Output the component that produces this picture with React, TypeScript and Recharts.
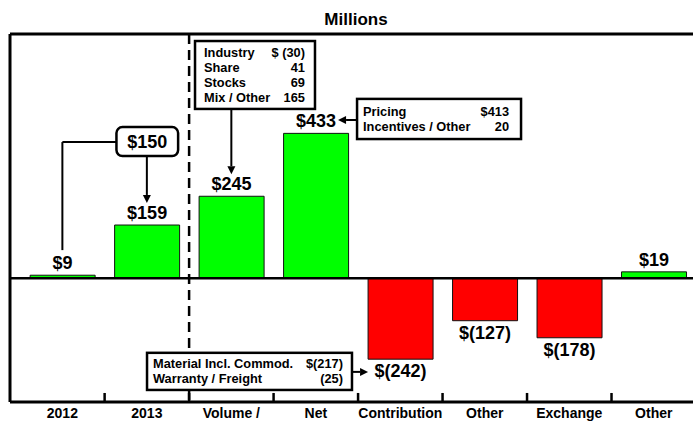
import React from 'react';
import {
  BarChart,
  Bar,
  XAxis,
  YAxis,
  Cell,
  LabelList,
  ReferenceLine,
  ReferenceArea,
} from 'recharts';

// ---- data ----
const categories = ['2012', '2013', 'Volume /', 'Net', 'Contribution', 'Other', 'Exchange', 'Other'];
const values = [9, 159, 245, 433, -242, -127, -178, 19];
const bridgeDelta = '$150';
const volumeItems = ['Industry', 'Share', 'Stocks', 'Mix / Other'];
const volumeAmounts = ['$ (30)', '41', '69', '165'];
const pricingItems = ['Pricing', 'Incentives / Other'];
const pricingAmounts = ['$413', '20'];
const materialItems = ['Material Incl. Commod.', 'Warranty / Freight'];
const materialAmounts = ['$(217)', '(25)'];
const title = 'Millions';

const data = categories.map((c, i) => ({ idx: i, name: c, value: values[i] }));
const labelTicks = categories.map((_, i) => i);
const markTicks = categories.slice(1).map((_, i) => i + 0.5);

const X_MIN = -0.62;
const X_MAX = 7.5;
const Y_MIN = -370;
const Y_MAX = 730;

const FONT = "'Liberation Sans', Arial, Helvetica, sans-serif";
const fmt = (v: number) => (v >= 0 ? `$${v}` : `$(${-v})`);

const BarValueLabel = (p: any) => {
  const vb = p.viewBox && p.viewBox.width !== undefined ? p.viewBox : p;
  const { x, y, width, height } = vb;
  const v = Number(p.value);
  const top = Math.min(y, y + height);
  const bottom = Math.max(y, y + height);
  return (
    <text x={x + width / 2} y={v >= 0 ? top - 6 : bottom + 18} textAnchor="middle" fontFamily={FONT} fontWeight="bold" fontSize={18} fill="#000">
      {fmt(v)}
    </text>
  );
};

const LabelTick = (p: any) => {
  const { x, y, payload } = p;
  const i = Math.round(payload.value);
  return (
    <text x={x} y={y + 16} textAnchor="middle" fontFamily={FONT} fontWeight="bold" fontSize={14} fill="#000">
      {categories[i]}
    </text>
  );
};

const arrowShape = (p: any) => {
  const x1 = Number(p.x1), y1 = Number(p.y1), x2 = Number(p.x2), y2 = Number(p.y2);
  const dx = x2 - x1, dy = y2 - y1;
  const len = Math.hypot(dx, dy) || 1;
  const ux = dx / len, uy = dy / len;
  const hl = 8, hw = 4;
  const bx = x2 - ux * hl, by = y2 - uy * hl;
  return (
    <g>
      <line x1={x1} y1={y1} x2={bx} y2={by} stroke="#000" strokeWidth={2} />
      <polygon points={`${x2},${y2} ${bx - uy * hw},${by + ux * hw} ${bx + uy * hw},${by - ux * hw}`} fill="#000" />
    </g>
  );
};

const infoBox = (items: string[], amounts: string[], o: any) => (p: any) => {
  const { x, y, width, height } = p;
  return (
    <g>
      <rect x={x} y={y} width={width} height={height} fill="#fff" stroke="#000" strokeWidth={2.5} />
      {items.map((t, i) => (
        <text key={'l' + i} x={x + o.padL} y={y + o.first + i * o.lineH} fontFamily={FONT} fontWeight="bold" fontSize={o.fs} fill="#000">{t}</text>
      ))}
      {amounts.map((t, i) => (
        <text key={'r' + i} x={x + width - o.padR} y={y + o.first + i * o.lineH} textAnchor="end" fontFamily={FONT} fontWeight="bold" fontSize={o.fs} fill="#000">{t}</text>
      ))}
    </g>
  );
};

const deltaBox = (p: any) => {
  const { x, y, width, height } = p;
  return (
    <g>
      <rect x={x} y={y} width={width} height={height} rx={6} ry={6} fill="#fff" stroke="#000" strokeWidth={2.5} />
      <text x={x + width / 2} y={y + height / 2 + 6.5} textAnchor="middle" fontFamily={FONT} fontWeight="bold" fontSize={18} fill="#000">{bridgeDelta}</text>
    </g>
  );
};

const lineShape = (w: number, dash?: string) => (p: any) => (
  <line x1={p.x1} y1={p.y1} x2={p.x2} y2={p.y2} stroke="#000" strokeWidth={w} strokeDasharray={dash} />
);

export default function App() {
  return (
    <div style={{ position: 'absolute', left: 0, top: 0, width: 693, height: 421, overflow: 'hidden', background: '#fff' }}>
      <div style={{ position: 'absolute', left: 0, top: 11, width: 712, textAlign: 'center', fontFamily: FONT, fontWeight: 'bold', fontSize: 17, lineHeight: '17px', color: '#000' }}>
        {title}
      </div>
      <BarChart width={700} height={421} data={data} margin={{ top: 34, right: 4, bottom: 0, left: 10 }}>
        <XAxis dataKey="idx" type="number" domain={[X_MIN, X_MAX]} allowDataOverflow ticks={labelTicks} interval={0}
          axisLine={{ stroke: '#000', strokeWidth: 3 }} tickLine={false} tickSize={0} tickMargin={0} height={19} tick={LabelTick} />
        <YAxis hide domain={[Y_MIN, Y_MAX]} allowDataOverflow />
        <ReferenceLine segment={[{ x: X_MIN, y: Y_MIN }, { x: X_MIN, y: Y_MAX }]} shape={lineShape(3)} />
        <ReferenceLine segment={[{ x: X_MIN, y: Y_MAX }, { x: X_MAX, y: Y_MAX }]} shape={lineShape(3)} />
        {markTicks.map((t) => (
          <ReferenceLine key={'mk' + t} segment={[{ x: t, y: Y_MIN }, { x: t, y: Y_MIN + 27 }]} shape={lineShape(2.5)} />
        ))}
        <ReferenceLine segment={[{ x: 1.5, y: Y_MAX }, { x: 1.5, y: -223 }]} shape={lineShape(2.5, '10 6')} />
        <ReferenceLine segment={[{ x: 1.5, y: -334 }, { x: 1.5, y: Y_MIN }]} shape={lineShape(2.5, '10 6')} />
        <Bar dataKey="value" barSize={65} isAnimationActive={false} stroke="#111" strokeWidth={1}>
          {data.map((d, i) => (
            <Cell key={i} fill={d.value >= 0 ? '#00FF00' : '#FF0000'} />
          ))}
          <LabelList dataKey="value" content={BarValueLabel} />
        </Bar>
        <ReferenceLine segment={[{ x: X_MIN, y: 0 }, { x: X_MAX, y: 0 }]} shape={lineShape(2.5)} />

        {/* $150 bridge callout */}
        <ReferenceLine segment={[{ x: 0.64, y: 407 }, { x: 0, y: 407 }]} shape={lineShape(2)} />
        <ReferenceLine segment={[{ x: 0, y: 407 }, { x: 0, y: 84 }]} shape={lineShape(2)} />
        <ReferenceLine segment={[{ x: 1, y: 365 }, { x: 1, y: 225 }]} shape={arrowShape} />
        <ReferenceArea x1={0.64} x2={1.37} y1={365} y2={452} shape={deltaBox} />

        {/* Volume / Mix callout */}
        <ReferenceLine segment={[{ x: 2, y: 506 }, { x: 2, y: 311 }]} shape={arrowShape} />
        <ReferenceArea x1={1.57} x2={2.99} y1={506} y2={709}
          shape={infoBox(volumeItems, volumeAmounts, { padL: 9, padR: 10, first: 15.5, lineH: 15, fs: 12.8 })} />

        {/* Net Pricing callout */}
        <ReferenceLine segment={[{ x: 3.488, y: 473 }, { x: 3.263, y: 473 }]} shape={arrowShape} />
        <ReferenceArea x1={3.488} x2={5.429} y1={416} y2={536}
          shape={infoBox(pricingItems, pricingAmounts, { padL: 6, padR: 12, first: 17.5, lineH: 15, fs: 12.8 })} />

        {/* Contribution costs callout */}
        <ReferenceLine segment={[{ x: 3.428, y: -280 }, { x: 3.618, y: -280 }]} shape={arrowShape} />
        <ReferenceArea x1={1.002} x2={3.428} y1={-334} y2={-223}
          shape={infoBox(materialItems, materialAmounts, { padL: 6, padR: 9, first: 15.5, lineH: 15, fs: 12.8 })} />
      </BarChart>
    </div>
  );
}
